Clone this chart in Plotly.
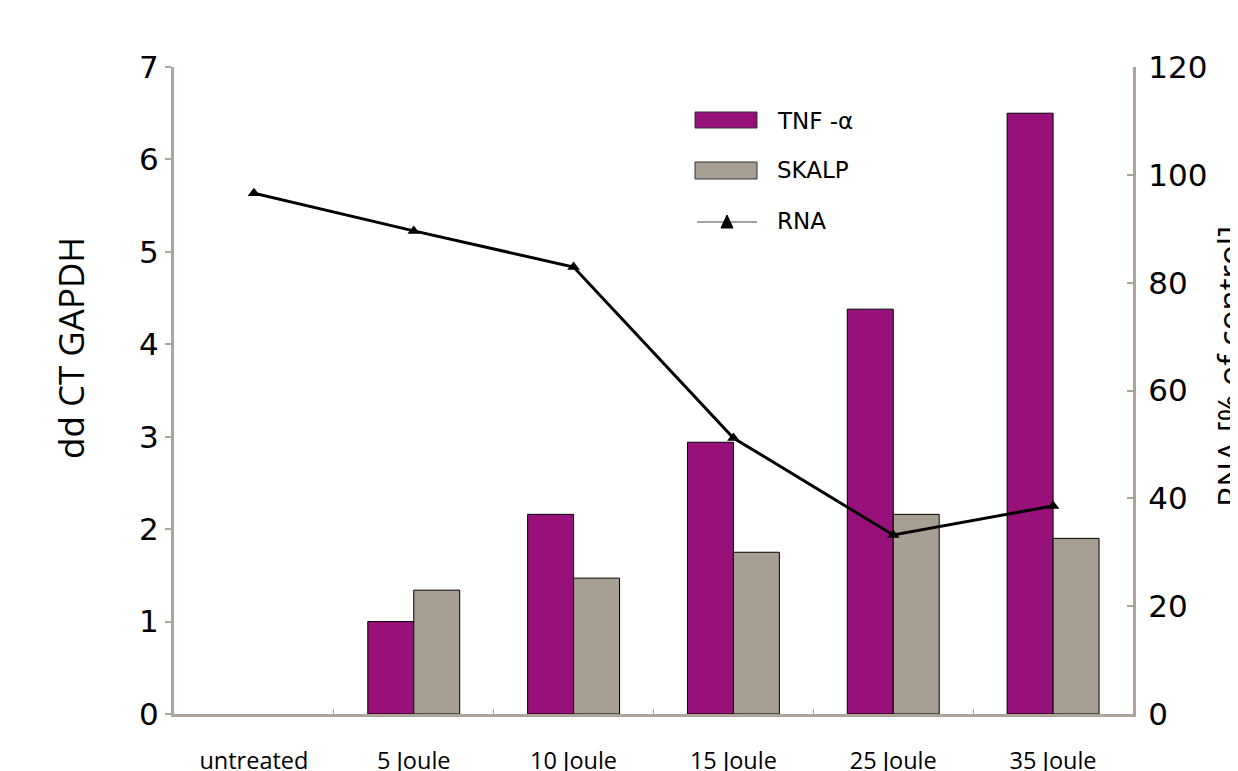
import plotly.graph_objects as go

categories = ["untreated", "5 Joule", "10 Joule", "15 Joule", "25 Joule", "35 Joule"]
tnf_alpha = [None, 1.0, 2.16, 2.94, 4.38, 6.5]
skalp = [None, 1.34, 1.47, 1.75, 2.16, 1.90]
rna = [96.6, 89.6, 82.9, 51.2, 33.2, 38.6]

OFF = 8  # page body margin
W, H = 1238 - OFF, 771 - OFF
L, R, T, B = 174 - OFF, 1133 - OFF, 67 - OFF, 714 - OFF
AX = "#ADA59A"
PURPLE = "#98117A"
TAUPE = "#A89F93"
FONT = "Open Sans"
NUMFONT = "DejaVu Sans"

def px(x):
    return (x - OFF - L) / (R - L)

def py(y):
    return (B - (y - OFF)) / (B - T)

fig = go.Figure()
fig.add_trace(go.Bar(x=categories, y=tnf_alpha, name="TNF -α", marker=dict(color=PURPLE, line=dict(color="black", width=1)), showlegend=False))
fig.add_trace(go.Bar(x=categories, y=skalp, name="SKALP", marker=dict(color=TAUPE, line=dict(color="black", width=1)), showlegend=False))
fig.add_trace(go.Scatter(x=categories, y=rna, name="RNA", yaxis="y2", mode="lines+markers",
                         line=dict(color="black", width=3), marker=dict(symbol="triangle-up", size=11, color="black"),
                         showlegend=False))

shapes = []
annotations = []
# legend
shapes.append(dict(type="rect", xref="paper", yref="paper", x0=px(695), x1=px(757), y0=py(128), y1=py(112),
                   fillcolor=PURPLE, line=dict(color="#333333", width=1)))
shapes.append(dict(type="rect", xref="paper", yref="paper", x0=px(695), x1=px(757), y0=py(179), y1=py(162),
                   fillcolor=TAUPE, line=dict(color="#333333", width=1)))
shapes.append(dict(type="line", xref="paper", yref="paper", x0=px(697), x1=px(757), y0=py(222), y1=py(222),
                   line=dict(color="#444444", width=1)))
tri = f"M {px(721)},{py(228)} L {px(733)},{py(228)} L {px(727)},{py(215)} Z"
shapes.append(dict(type="path", xref="paper", yref="paper", path=tri, fillcolor="black", line=dict(color="black", width=1)))
for label, yy in [("TNF -α", 121), ("SKALP", 170), ("RNA", 221)]:
    annotations.append(dict(text=label, xref="paper", yref="paper", x=px(775), y=py(yy), xanchor="left", yanchor="middle",
                            showarrow=False, font=dict(family=NUMFONT, size=23, color="black")))

annotations.append(dict(text="dd CT GAPDH", xref="paper", yref="paper", x=px(70), y=py(348), textangle=-90,
                        xanchor="center", yanchor="middle", showarrow=False, font=dict(family=FONT, size=35, color="black")))
annotations.append(dict(text="RNA [% of control]", xref="paper", yref="paper", x=px(1229), y=py(367), textangle=-90,
                        xanchor="center", yanchor="middle", showarrow=False, font=dict(family=FONT, size=33, color="black")))

fig.update_layout(
    width=W, height=H,
    margin=dict(l=L, r=W - R, t=T, b=H - B, autoexpand=False),
    paper_bgcolor="white", plot_bgcolor="white",
    barmode="group", bargap=0.425, bargroupgap=0,
    shapes=shapes, annotations=annotations,
    font=dict(family=FONT, color="black"),
    xaxis=dict(type="category", range=[-0.5, 5.5], showline=True, linecolor=AX, linewidth=3, automargin=False,
               ticks="inside", tickson="boundaries", ticklen=5, tickcolor=AX, tickwidth=1,
               tickfont=dict(family=FONT, size=23.5), ticklabelstandoff=24, showgrid=False, zeroline=False),
    yaxis=dict(range=[0, 7], dtick=1, showline=True, linecolor=AX, linewidth=3, automargin=False,
               ticks="outside", ticklen=6, tickcolor=AX, tickwidth=2,
               tickfont=dict(family=NUMFONT, size=31), ticklabelstandoff=0, showgrid=False, zeroline=False),
    yaxis2=dict(range=[0, 120], dtick=20, overlaying="y", side="right", showline=True, linecolor=AX, linewidth=3,
                automargin=False, ticks="inside", ticklen=6, tickcolor=AX, tickwidth=2,
                tickfont=dict(family=NUMFONT, size=31), ticklabelstandoff=6, showgrid=False, zeroline=False),
)

fig.write_html("out.html")
